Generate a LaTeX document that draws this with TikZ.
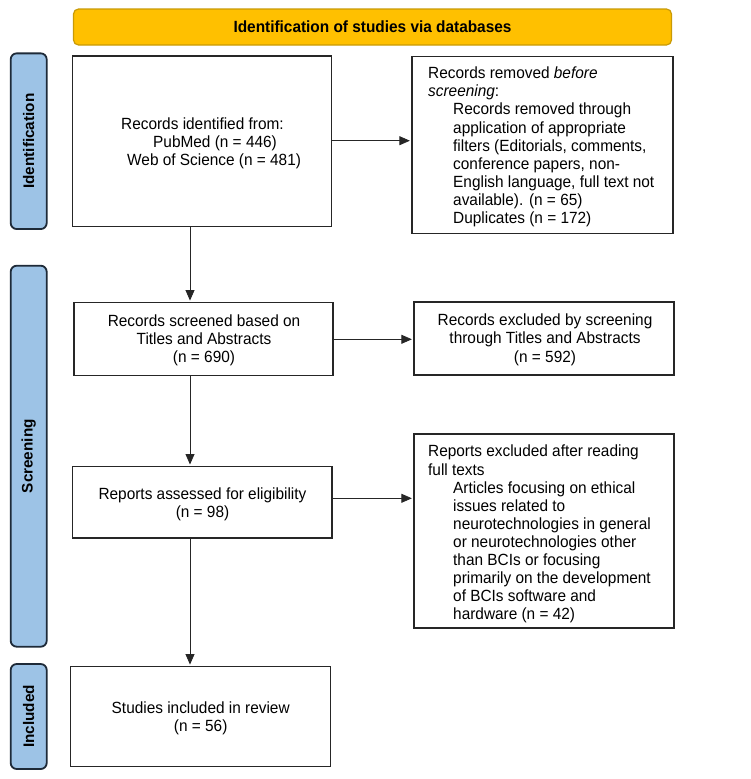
\documentclass[tikz,border=0pt]{standalone}
\usepackage{fontspec}
\setmainfont{Liberation Sans}[FakeStretch=0.95]
\newfontfamily\barfont{Liberation Sans}
\usetikzlibrary{arrows.meta}
\definecolor{gold}{HTML}{FFC000}
\definecolor{goldline}{HTML}{C99A06}
\definecolor{barblue}{HTML}{9DC3E6}
\definecolor{barline}{HTML}{1E2A38}
\begin{document}
\begin{tikzpicture}[x=1pt,y=-1pt,
  txt/.style={font=\fontsize{16.2}{18.1}\selectfont, inner sep=0pt},
  box/.style={draw=black!85, line width=1.3pt, fill=white, inner sep=0pt},
  header/.style={draw=goldline, line width=1.2pt, fill=gold, rounded corners=5pt, font=\fontsize{16.2}{18.1}\selectfont\bfseries},
  bar/.style={draw=barline, line width=1.8pt, fill=barblue, rounded corners=6pt, rotate=90, font=\barfont\fontsize{15.3}{18}\selectfont\bfseries},
  arr/.style={-{Triangle[length=10.5pt,width=9pt]}, line width=0.8pt, black!85, shorten >=1.5pt}]
\useasboundingbox (0,0) rectangle (750,779);
\fill[white] (0,0) rectangle (750,779);

% header
\node[header, minimum width=598pt, minimum height=36pt] (hdr) at (372.5,27) {Identification of studies via databases};

% side bars
\node[bar, minimum width=175.7pt, minimum height=36pt] (idbar) at (28.7,141.2) {Identification};
\node[bar, minimum width=381pt, minimum height=36pt] (scbar) at (28.7,456.2) {Screening};
\node[bar, minimum width=105pt, minimum height=36pt] (inbar) at (28.7,716.5) {Included};

% boxes
\node[box, minimum width=259pt, minimum height=170.7pt] (b1) at (202.2,141.3) {};
\node[box, minimum width=261pt, minimum height=176.6pt] (b2) at (542.5,145) {};
\node[box, minimum width=259pt, minimum height=73pt] (b3) at (203.5,339.2) {};
\node[box, minimum width=260pt, minimum height=73pt] (b4) at (544,338.5) {};
\node[box, minimum width=259.4pt, minimum height=71.3pt] (b5) at (202.3,502.3) {};
\node[box, minimum width=260pt, minimum height=194pt] (b6) at (544,531) {};
\node[box, minimum width=260pt, minimum height=100pt] (b7) at (200.7,716.7) {};

% texts
\node[txt, anchor=west, align=left] (t1) at (121,143.5) {Records identified from:\\\hspace*{32pt}PubMed (n = 446)\\\hspace*{6pt}Web of Science (n = 481)};
\node[txt, anchor=west, align=left] (t2) at (428,147) {Records removed \textit{before}\\\textit{screening}:\\
\hspace*{25pt}Records removed through\\
\hspace*{25pt}application of appropriate\\
\hspace*{25pt}filters (Editorials, comments,\\
\hspace*{25pt}conference papers, non-\\
\hspace*{25pt}English language, full text not\\
\hspace*{25pt}available). (n = 65)\\
\hspace*{25pt}Duplicates (n = 172)};
\node[txt, align=center] (t3) at (204,340.7) {Records screened based on\\Titles and Abstracts\\(n = 690)};
\node[txt, align=center] (t4) at (545,339.8) {Records excluded by screening\\through Titles and Abstracts\\(n = 592)};
\node[txt, align=center] (t5) at (202.5,504.2) {Reports assessed for eligibility\\(n = 98)};
\node[txt, anchor=west, align=left] (t6) at (428,534.2) {Reports excluded after reading\\full texts\\
\hspace*{25pt}Articles focusing on ethical\\
\hspace*{25pt}issues related to\\
\hspace*{25pt}neurotechnologies in general\\
\hspace*{25pt}or neurotechnologies other\\
\hspace*{25pt}than BCIs or focusing\\
\hspace*{25pt}primarily on the development\\
\hspace*{25pt}of BCIs software and\\
\hspace*{25pt}hardware (n = 42)};
\node[txt, align=center] (t7) at (200.7,718.5) {Studies included in review\\(n = 56)};

% connectors
\coordinate (vx) at (190,0);
\coordinate (h1) at (0,140.7);
\coordinate (h3) at (0,339.3);
\coordinate (h5) at (0,498.3);
\draw[arr] (b1.south -| vx) -- (b3.north -| vx);
\draw[arr] (b3.south -| vx) -- (b5.north -| vx);
\draw[arr] (b5.south -| vx) -- (b7.north -| vx);
\draw[arr] (b1.east |- h1) -- (b2.west |- h1);
\draw[arr] (b3.east |- h3) -- (b4.west |- h3);
\draw[arr] (b5.east |- h5) -- (b6.west |- h5);
\end{tikzpicture}
\end{document}
